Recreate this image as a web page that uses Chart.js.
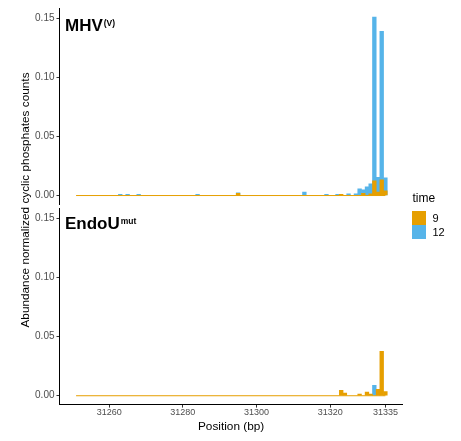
<!DOCTYPE html>
<html lang="en">
<head>
  <meta charset="UTF-8">
  <title>Cyclic phosphates</title>
  <script src="https://cdn.jsdelivr.net/npm/chart.js"></script>
  <style>
    body { margin: 0; background: #fff; }
    canvas { display: block; }
  </style>
</head>
<body>
  <canvas id="graphic" width="461" height="441"></canvas>

  <script>
    // series (time) and colours
    const series = ['9', '12'];
    const colors = ['#E69F00', '#56B4E9'];

    // panel names
    const panelNames = ['MHV', 'EndoU'];
    const panelSup = ['(V)', 'mut'];

    // MHV(V) panel
    const mhv9Pos = [31295, 31323, 31329, 31331, 31332, 31333, 31334, 31335];
    const mhv9Val = [0.0018, 0.001, 0.0018, 0.0015, 0.0125, 0.003, 0.0133, 0.004];
    const mhv12Pos = [31263, 31265, 31268, 31284, 31295, 31313, 31319, 31322, 31325, 31327, 31328, 31329, 31330, 31331, 31332, 31333, 31334, 31335];
    const mhv12Val = [0.001, 0.001, 0.001, 0.001, 0.0022, 0.003, 0.001, 0.001, 0.0014, 0.0014, 0.0057, 0.0048, 0.0074, 0.010, 0.151, 0.0155, 0.139, 0.015];

    // EndoU mut panel
    const endo9Pos = [31323, 31324, 31328, 31330, 31331, 31333, 31334, 31335];
    const endo9Val = [0.0045, 0.0022, 0.0013, 0.003, 0.0013, 0.0054, 0.0375, 0.0036];
    const endo12Pos = [31332];
    const endo12Val = [0.0088];

    // range of positions covered (zero line)
    const positionRange = [31251, 31335];

    // axes
    const xTicks = [31260, 31280, 31300, 31320, 31335];
    const xLimits = [31246.5, 31339.7];
    const yTicks = [0, 0.05, 0.10, 0.15];
    const yLimits = [-0.0075, 0.1585];

    const family = "'Liberation Sans', Arial, Helvetica, sans-serif";

    function bars(pos, val, i, axis) {
      return {
        type: 'bar',
        label: series[i],
        data: pos.map((p, k) => ({ x: p, y: val[k] })),
        backgroundColor: colors[i],
        borderWidth: 0,
        grouped: false,
        categoryPercentage: 1,
        barPercentage: 1,
        yAxisID: axis,
        order: i + 1
      };
    }

    function zeroLine(axis) {
      return {
        type: 'line',
        data: positionRange.map(p => ({ x: p, y: 0 })),
        borderColor: colors[0],
        borderWidth: 1,
        pointRadius: 0,
        yAxisID: axis,
        order: 0
      };
    }

    function yAxis(weight, show) {
      return {
        type: 'linear',
        min: yLimits[0],
        max: yLimits[1],
        stack: 'panels',
        stackWeight: weight,
        grid: { display: show, drawOnChartArea: false, drawTicks: true, tickLength: 3, tickColor: '#333', tickWidth: 1 },
        border: { display: show, color: '#000', width: 1 },
        ticks: {
          display: show,
          font: { family: family, size: 10 },
          color: '#4D4D4D',
          padding: 2,
          callback: v => v.toFixed(2)
        },
        afterBuildTicks: s => { s.ticks = yTicks.map(v => ({ value: v })); },
        afterFit: s => {
          s.width = 59.5;
          s.paddingTop = 0; s.paddingBottom = 0;
        }
      };
    }

    const decor = {
      id: 'decor',
      afterDraw(chart) {
        const ctx = chart.ctx;
        ctx.save();
        ctx.fillStyle = '#000';
        ctx.textAlign = 'left';
        ctx.textBaseline = 'alphabetic';

        // panel labels
        const baselines = [31, 229];
        panelNames.forEach((name, i) => {
          const x = chart.chartArea.left + 5.5;
          ctx.font = 'bold 17px ' + family;
          ctx.fillText(name, x, baselines[i]);
          const w = ctx.measureText(name).width;
          ctx.font = 'bold 8.5px ' + family;
          ctx.fillText(panelSup[i], x + w + 1, baselines[i] - 5);
        });

        // legend
        ctx.font = '12px ' + family;
        ctx.fillText('time', 412.5, 202);
        ctx.font = '11px ' + family;
        ctx.textBaseline = 'middle';
        series.forEach((s, i) => {
          ctx.fillStyle = colors[i];
          ctx.fillRect(412, 211 + i * 14, 14, 14);
          ctx.fillStyle = '#000';
          ctx.fillText(s, 432.5, 218.5 + i * 14);
        });

        // y title
        ctx.translate(28.5, 200);
        ctx.rotate(-Math.PI / 2);
        ctx.textAlign = 'center';
        ctx.textBaseline = 'alphabetic';
        ctx.font = '11.8px ' + family;
        ctx.fillText('Abundance normalized cyclic phosphates counts', 0, 0);
        ctx.restore();
      }
    };

    const grafico = new Chart(document.getElementById('graphic'), {
      type: 'bar',
      data: {
        datasets: [
          zeroLine('yTop'),
          zeroLine('yBot'),
          bars(mhv9Pos, mhv9Val, 0, 'yTop'),
          bars(mhv12Pos, mhv12Val, 1, 'yTop'),
          bars(endo9Pos, endo9Val, 0, 'yBot'),
          bars(endo12Pos, endo12Val, 1, 'yBot')
        ]
      },
      options: {
        responsive: false,
        animation: false,
        events: [],
        layout: { padding: { top: 8.3, right: 58.3, left: 0, bottom: 0 } },
        plugins: {
          legend: { display: false },
          tooltip: { enabled: false }
        },
        scales: {
          x: {
            type: 'linear',
            position: 'bottom',
            offset: false,
            min: xLimits[0],
            max: xLimits[1],
            grid: { display: true, offset: false, drawOnChartArea: false, tickLength: 3, tickColor: '#333', tickWidth: 1 },
            border: { display: true, color: '#000', width: 1 },
            ticks: {
              font: { family: family, size: 9 },
              color: '#4D4D4D',
              padding: 0,
              maxRotation: 0,
              callback: v => String(v)
            },
            afterBuildTicks: s => { s.ticks = xTicks.map(v => ({ value: v })); },
            title: {
              display: true,
              text: 'Position (bp)',
              font: { family: family, size: 11.8 },
              color: '#000',
              padding: { top: 0, bottom: 7 }
            },
            afterFit: s => {
              s.height = 36.4;
              s.paddingLeft = 0; s.paddingRight = 0;
            }
          },
          yBot: yAxis(1, true),
          yGap: yAxis(0.021, false),
          yTop: yAxis(1, true)
        }
      },
      plugins: [decor]
    });
  </script>
</body>
</html>
